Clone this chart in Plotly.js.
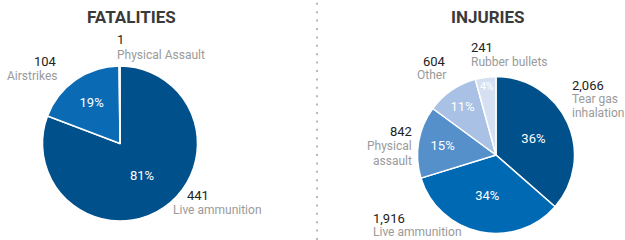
<!DOCTYPE html>
<html>
<head>
<meta charset="utf-8">
<script src="https://cdn.plot.ly/plotly-3.0.1.min.js"></script>
<style>html,body{margin:0;padding:0;background:#fff}#chart{width:625px;height:240px}</style>
</head>
<body>
<div id="chart"></div>
<script>
// ---- data ----
const fatalLabels = ["Live ammunition", "Airstrikes", "Physical Assault"];
const fatalValues = [441, 104, 1];
const injuryLabels = ["Tear gas inhalation", "Live ammunition", "Physical assault", "Other", "Rubber bullets"];
const injuryValues = [2066, 1916, 842, 604, 241];
const titles = ["FATALITIES", "INJURIES"];

// ---- styles ----
const fatalColors = ["#00508c", "#0a6bb4", "#5a93cf"];
const injuryColors = ["#00508c", "#0069b4", "#5590cb", "#a8c1e4", "#d5e1f3"];
const FONT = "Roboto, 'Noto Sans', sans-serif";
const W = 625, H = 240;

function pctTemplate(vals) {
  const tot = vals.reduce((a, b) => a + b, 0);
  return vals.map(v => (v / tot < 0.005 ? "" : "%{percent:.0%}"));
}
function px(x) { return x / W; }
function py(y) { return 1 - y / H; }
function fmt(v) { return v.toLocaleString("en-US"); }

const traces = [
  {
    type: "pie", labels: fatalLabels, values: fatalValues, sort: false,
    direction: "clockwise", rotation: 0,
    marker: { colors: fatalColors, line: { color: "#fff", width: 1.5 } },
    texttemplate: pctTemplate(fatalValues), textposition: "inside",
    insidetextorientation: "horizontal",
    insidetextfont: { color: "#fff", size: 13, family: FONT },
    hoverinfo: "label+value+percent",
    domain: { x: [px(42.5), px(197.5)], y: [py(221), py(66)] },
    showlegend: false
  },
  {
    type: "pie", labels: injuryLabels, values: injuryValues, sort: false,
    direction: "clockwise", rotation: 0,
    marker: { colors: injuryColors, line: { color: "#fff", width: 1.5 } },
    texttemplate: pctTemplate(injuryValues), textposition: "inside",
    insidetextorientation: "horizontal",
    insidetextfont: { color: "#fff", size: 13, family: FONT },
    hoverinfo: "label+value+percent",
    domain: { x: [px(417.5), px(574.5)], y: [py(233.5), py(76.5)] },
    showlegend: false
  }
];

// label placements (pixel anchors) for outside labels
const fatalPlace = [
  { x: 171, yNum: 195, yLab: [210], xNum: 185, anchor: "left", lines: ["Live ammunition"] },
  { x: 59, yNum: 62, yLab: [76], xNum: 59, anchor: "right", lines: ["Airstrikes"] },
  { x: 115, yNum: 40, yLab: [55], xNum: 115, anchor: "left", lines: ["Physical Assault"] }
];
const injuryPlace = [
  { x: 570, yNum: 85, yLab: [99, 113], xNum: 570, anchor: "left", lines: ["Tear gas", "inhalation"] },
  { x: 371, yNum: 218, yLab: [232], xNum: 371, anchor: "left", lines: ["Live ammunition"] },
  { x: 414, yNum: 131, yLab: [146, 161], xNum: 414, anchor: "right", lines: ["Physical", "assault"] },
  { x: 448, yNum: 61, yLab: [75], xNum: 448, anchor: "right", lines: ["Other"] },
  { x: 469, yNum: 48, yLab: [62], xNum: 469, anchor: "left", lines: ["Rubber bullets"] }
];

const annotations = [];
function addLabels(vals, place) {
  vals.forEach((v, i) => {
    const p = place[i];
    annotations.push({
      xref: "paper", yref: "paper", x: px(p.xNum), y: py(p.yNum),
      xanchor: p.anchor, yanchor: "middle", showarrow: false,
      text: fmt(v), font: { family: FONT, size: 13, color: "#222" }
    });
    p.lines.forEach((ln, j) => {
      annotations.push({
        xref: "paper", yref: "paper", x: px(p.x), y: py(p.yLab[j]),
        xanchor: p.anchor, yanchor: "middle", showarrow: false,
        text: ln, font: { family: FONT, size: 12, color: "#9a9a9a" }
      });
    });
  });
}
addLabels(fatalValues, fatalPlace);
addLabels(injuryValues, injuryPlace);

// titles
[[131, titles[0]], [488, titles[1]]].forEach(([x, t]) => {
  annotations.push({
    xref: "paper", yref: "paper", x: px(x), y: py(17),
    xanchor: "center", yanchor: "middle", showarrow: false,
    text: "<b>" + t + "</b>", font: { family: FONT, size: 17, color: "#3a3a3a" }
  });
});

const layout = {
  width: W, height: H,
  margin: { l: 0, r: 0, t: 0, b: 0 },
  paper_bgcolor: "#fff", plot_bgcolor: "#fff",
  annotations: annotations,
  shapes: [{
    type: "line", xref: "paper", yref: "paper",
    x0: px(317), x1: px(317), y0: 0, y1: 1,
    line: { color: "#b8b8b8", width: 2, dash: "2px,6.4px" }
  }]
};

Plotly.newPlot("chart", traces, layout, { displayModeBar: false, staticPlot: true });
</script>
</body>
</html>
